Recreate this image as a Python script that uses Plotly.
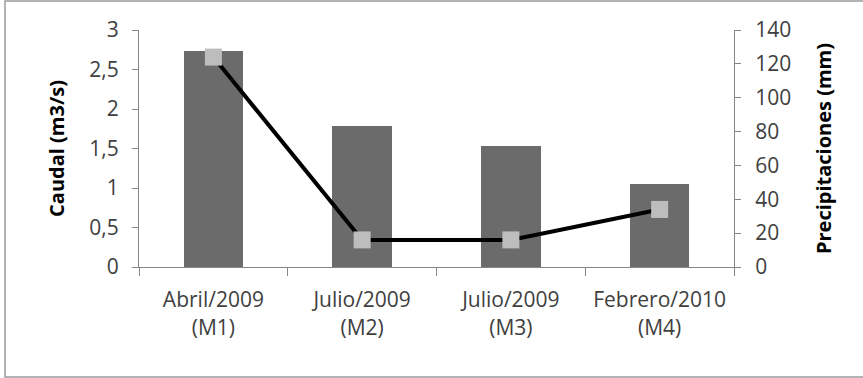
import plotly.graph_objects as go

# Sampling campaigns
categorias = ["Abril/2009<br>(M1)", "Julio/2009<br>(M2)", "Julio/2009<br>(M3)", "Febrero/2010<br>(M4)"]
caudal = [2.73, 1.78, 1.53, 1.05]          # m3/s
precipitaciones = [124, 16, 16, 34]        # mm

W, H = 863, 378
ML, MR, MT, MB = 139, 129, 30, 111
PW, PH = W - ML - MR, H - MT - MB

FONT = "Open Sans"
AXIS_GRAY = "#868686"
TICK_FONT = dict(family=FONT, size=21, color="#404040")
TITLE_FONT = dict(family=FONT, size=20, color="#000000", weight="bold")

fig = go.Figure()

fig.add_trace(go.Bar(
    x=categorias, y=caudal, width=0.4,
    marker=dict(color="#6b6b6b", line=dict(width=0)),
    yaxis="y", name="Caudal",
))

fig.add_trace(go.Scatter(
    x=categorias, y=precipitaciones, yaxis="y2", mode="lines+markers",
    line=dict(color="#000000", width=4),
    marker=dict(symbol="square", size=17, color="#bdbdbd", line=dict(width=0)),
    name="Precipitaciones",
))

# Outer frame of the chart area
def px_x(p):
    return (p - ML) / PW

def px_y(p):
    return (H - MB - p) / PH

fig.add_shape(type="rect", xref="paper", yref="paper",
              x0=px_x(5), x1=px_x(880), y0=px_y(377), y1=px_y(1),
              line=dict(color="#9a9a9a", width=1.5), fillcolor="rgba(0,0,0,0)",
              layer="below")

fig.update_layout(
    width=W, height=H,
    margin=dict(l=ML, r=MR, t=MT, b=MB, pad=0),
    paper_bgcolor="white", plot_bgcolor="white",
    showlegend=False,
    separators=",.",
    bargap=0,
    xaxis=dict(
        type="category", range=[-0.5, 3.5],
        showline=True, linecolor=AXIS_GRAY, linewidth=1,
        ticks="outside", tickson="boundaries", ticklen=8, tickcolor=AXIS_GRAY,
        showgrid=False, zeroline=False,
        tickfont=TICK_FONT, ticklabelstandoff=14,
    ),
    yaxis=dict(
        range=[0, 3], dtick=0.5, tick0=0,
        showline=True, linecolor=AXIS_GRAY, linewidth=1,
        ticks="outside", ticklen=6, tickcolor=AXIS_GRAY,
        showgrid=False, zeroline=False,
        tickfont=TICK_FONT, ticklabelstandoff=9,
        title=dict(text="Caudal (m3/s)", font=TITLE_FONT, standoff=19),
    ),
    yaxis2=dict(
        range=[0, 140], dtick=20, tick0=0,
        overlaying="y", side="right",
        showline=True, linecolor=AXIS_GRAY, linewidth=1,
        ticks="outside", ticklen=6, tickcolor=AXIS_GRAY,
        showgrid=False, zeroline=False,
        tickfont=TICK_FONT, ticklabelstandoff=10,
        title=dict(text="Precipitaciones (mm)", font=TITLE_FONT, standoff=26),
    ),
)

fig.write_html("out.html")
